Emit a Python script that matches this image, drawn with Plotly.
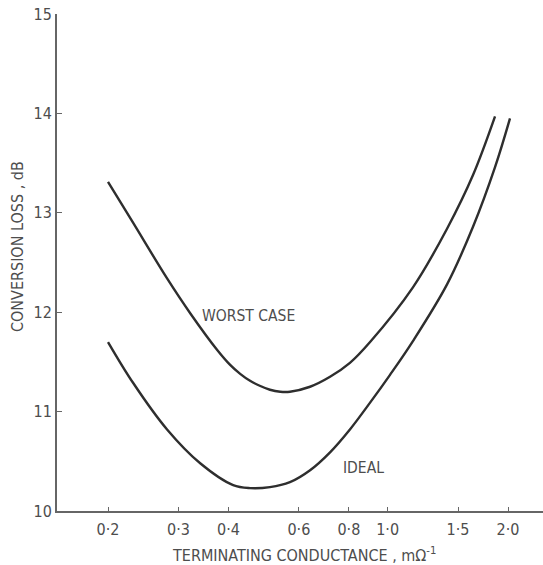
import math
import plotly.graph_objects as go

# values (conductance in mS, loss in dB)
worst_x = [0.200, 0.231, 0.281, 0.321, 0.375, 0.404, 0.428, 0.453, 0.479, 0.508, 0.539,
           0.570, 0.640, 0.718, 0.805, 0.904, 1.157, 1.408, 1.635, 1.856]
worst_y = [13.31, 12.90, 12.34, 11.99, 11.62, 11.47, 11.38, 11.31, 11.26, 11.22, 11.20,
           11.20, 11.25, 11.35, 11.49, 11.70, 12.25, 12.84, 13.38, 13.97]

ideal_x = [0.200, 0.231, 0.281, 0.340, 0.411, 0.453, 0.508, 0.570, 0.640, 0.718,
           0.805, 0.904, 1.014, 1.157, 1.408, 1.635, 1.856, 2.023]
ideal_y = [11.70, 11.29, 10.82, 10.48, 10.26, 10.23, 10.24, 10.29, 10.41, 10.59,
           10.82, 11.09, 11.37, 11.71, 12.28, 12.86, 13.46, 13.95]

x_ticks = [0.2, 0.3, 0.4, 0.6, 0.8, 1.0, 1.5, 2.0]
x_tick_text = ["0·2", "0·3", "0·4", "0·6", "0·8", "1·0", "1·5", "2·0"]
y_ticks = [10, 11, 12, 13, 14, 15]

FONT = "DejaVu Sans Condensed, Liberation Sans Narrow, DejaVu Sans, sans-serif"
INK = "#2e2e2e"
TXT = "#4d4d4d"
AXC = "#666666"

fig = go.Figure()
for xs, ys in [(worst_x, worst_y), (ideal_x, ideal_y)]:
    fig.add_trace(go.Scatter(x=xs, y=ys, mode="lines",
                             line=dict(color=INK, width=2.4, shape="spline", smoothing=1.0),
                             showlegend=False, hoverinfo="skip"))

# curve labels
fig.add_annotation(x=math.log10(0.45), y=11.96, text="WORST CASE", showarrow=False,
                   font=dict(family=FONT, size=15.5, color=TXT))
fig.add_annotation(x=math.log10(0.868), y=10.43, text="IDEAL", showarrow=False,
                   font=dict(family=FONT, size=15.5, color=TXT))

# axis titles placed by hand
fig.add_annotation(xref="paper", yref="paper", x=0.508, y=-0.0885, yanchor="middle",
                   text="TERMINATING CONDUCTANCE , m\u03a9<sup>-1</sup>", showarrow=False,
                   font=dict(family=FONT, size=16, color=TXT))
fig.add_annotation(xref="paper", yref="paper", x=-0.0823, y=0.531, xanchor="center",
                   yanchor="middle", textangle=-90, text="CONVERSION LOSS , dB",
                   showarrow=False, font=dict(family=FONT, size=16, color=TXT))

fig.update_layout(
    width=543, height=565,
    margin=dict(l=57, r=0, t=14, b=54),
    paper_bgcolor="white", plot_bgcolor="white",
    font=dict(family=FONT, color=TXT),
    xaxis=dict(
        type="log", range=[-0.8265, 0.3885], automargin=False,
        tickvals=x_ticks, ticktext=x_tick_text,
        ticks="inside", ticklen=4, tickcolor=AXC,
        showgrid=False, zeroline=False,
        showline=True, linecolor=AXC, linewidth=2,
        tickfont=dict(size=16, color=TXT), ticklabelstandoff=3,
    ),
    yaxis=dict(
        range=[10, 15], tickvals=y_ticks, automargin=False,
        ticks="inside", ticklen=5, tickcolor=AXC,
        showgrid=False, zeroline=False,
        showline=True, linecolor=AXC, linewidth=2,
        tickfont=dict(size=16, color=TXT), ticklabelstandoff=0,
    ),
)

# drop the browser's default body margin so the figure sits at the page corner
fig.write_html("out.html", config={"displayModeBar": False},
               post_script="document.body.style.margin='0';")
